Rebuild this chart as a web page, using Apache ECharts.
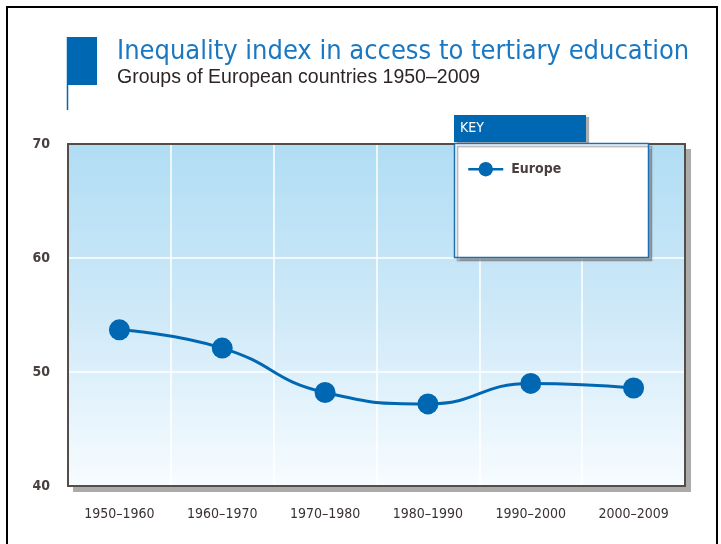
<!DOCTYPE html>
<html>
<head>
<meta charset="utf-8">
<script src="https://cdn.jsdelivr.net/npm/echarts@6/dist/echarts.min.js"></script>
<style>
  html, body { margin: 0; padding: 0; background: #fff; }
  #chart { width: 721px; height: 544px; }
</style>
</head>
<body>
<div id="chart"></div>
<script>
const periods = ['1950–1960', '1960–1970', '1970–1980', '1980–1990', '1990–2000', '2000–2009']
const europe = [53.7, 52.1, 48.2, 47.2, 49.0, 48.6]
const yTicks = { min: 40, max: 70, interval: 10 }

const blue = '#0068b3'
const frame = '#554d48'
const narrow = '"Liberation Sans Narrow", "DejaVu Sans Condensed", sans-serif'

// an axis that only draws one side of the plot frame
const frameSide = (extra) => Object.assign({
  axisLine: { show: true, onZero: false, lineStyle: { color: frame, width: 2 } },
  axisTick: { show: false }, axisLabel: { show: false }, splitLine: { show: false }
}, extra)

const chart = echarts.init(document.getElementById('chart'))
chart.setOption({
  backgroundColor: '#fff',
  animation: false,
  title: {
    text: 'Inequality index in access to tertiary education',
    subtext: 'Groups of European countries 1950–2009',
    left: 112, top: 33, itemGap: 3,
    textStyle: { color: '#1a78c2', fontSize: 27, fontWeight: 'normal', fontFamily: narrow },
    subtextStyle: { color: '#2e2626', fontSize: 19.5, fontFamily: '"Liberation Sans", Arial, sans-serif' }
  },
  graphic: [
    { type: 'rect', shape: { x: 7, y: 7, width: 710, height: 560 }, style: { fill: 'none', stroke: '#000', lineWidth: 2 }, z: 100 },
    { type: 'rect', shape: { x: 67, y: 37, width: 30, height: 48 }, style: { fill: blue } },
    { type: 'line', shape: { x1: 67.5, y1: 37, x2: 67.5, y2: 110 }, style: { stroke: blue, lineWidth: 1.5 } },
    // drop shadow behind the plot frame
    { type: 'rect', shape: { x: 73, y: 149, width: 618, height: 343 }, style: { fill: '#ababab' }, z: -10 },
    // KEY header and box
    { type: 'rect', shape: { x: 454, y: 115, width: 132, height: 27 }, style: { fill: blue, shadowColor: 'rgba(120,120,120,0.6)', shadowOffsetX: 3, shadowOffsetY: 2, shadowBlur: 1 }, z: 10 },
    { type: 'text', x: 460, y: 121, style: { text: 'KEY', fill: '#fff', font: '14px ' + narrow }, z: 11 },
    { type: 'rect', shape: { x: 454.5, y: 143.5, width: 194, height: 114 }, style: { fill: '#fff', stroke: '#1a6fb5', lineWidth: 1.5, shadowColor: 'rgba(120,120,120,0.6)', shadowOffsetX: 3, shadowOffsetY: 3, shadowBlur: 1 }, z: 10 }
  ],
  legend: {
    left: 462, top: 157, z: 12,
    itemWidth: 35, itemHeight: 18, itemGap: 10,
    lineStyle: { width: 2.5 },
    textStyle: { color: '#4a4040', fontSize: 14, fontWeight: 'bold', fontFamily: narrow, padding: [0, 0, 0, 3] },
    data: ['Europe']
  },
  grid: {
    left: 68, right: 36, top: 144, bottom: 58,
    show: true,
    backgroundColor: new echarts.graphic.LinearGradient(0, 0, 0, 1, [
      { offset: 0, color: '#b0ddf4' }, { offset: 0.5, color: '#cfe9f8' }, { offset: 1, color: '#f7fcff' }
    ]),
    borderWidth: 0
  },
  xAxis: [{
    type: 'category', data: periods, boundaryGap: true,
    axisLine: { show: true, lineStyle: { color: frame, width: 2 } }, axisTick: { show: false },
    axisLabel: { color: '#3a3232', fontSize: 14, fontFamily: narrow, margin: 21 },
    splitLine: { show: true, interval: 0, lineStyle: { color: '#ffffff', width: 1.5 } }
  }, frameSide({ type: 'category', data: periods, position: 'top' })],
  yAxis: [{
    type: 'value', min: yTicks.min, max: yTicks.max, interval: yTicks.interval,
    axisLine: { show: true, lineStyle: { color: frame, width: 2 } }, axisTick: { show: false },
    axisLabel: { color: '#4a4040', fontSize: 14, fontWeight: 'bold', fontFamily: narrow, margin: 18 },
    splitLine: { lineStyle: { color: '#ffffff', width: 1.5 } }
  }, frameSide({ type: 'value', min: yTicks.min, max: yTicks.max, interval: yTicks.interval, position: 'right' })],
  series: [{
    name: 'Europe', type: 'line', data: europe, smooth: 0.5,
    symbol: 'circle', symbolSize: 21,
    lineStyle: { color: blue, width: 3 }, itemStyle: { color: blue }
  }]
})
</script>
</body>
</html>
